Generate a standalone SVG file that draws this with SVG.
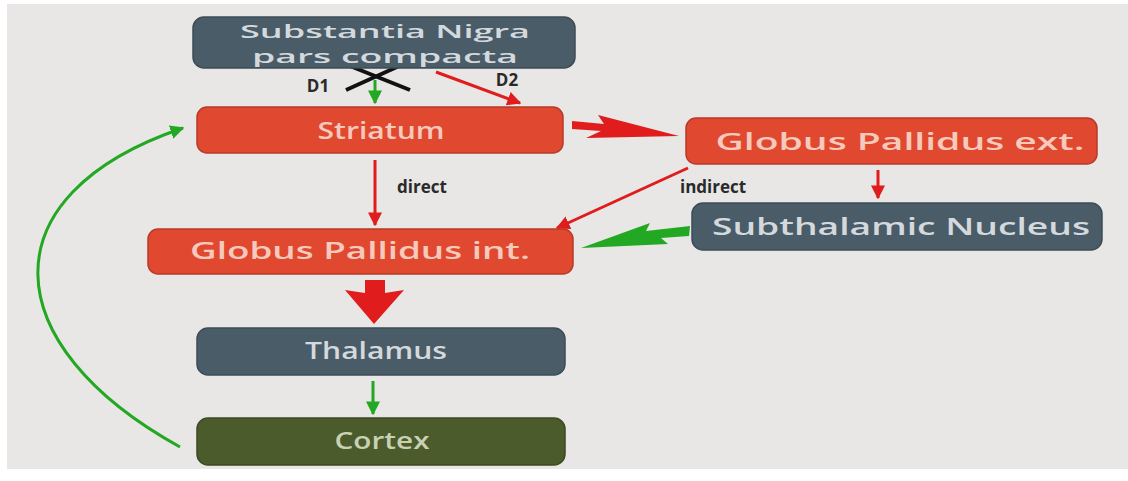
<svg xmlns="http://www.w3.org/2000/svg" width="1128" height="481" viewBox="0 0 1128 481">
<defs>
<style>
.slate{fill:#4a5c68;stroke:#3c4c57;stroke-width:1.5}
.red{fill:#e0492f;stroke:#b8392a;stroke-width:1.5}
.olive{fill:#4b5b2c;stroke:#3d4a22;stroke-width:1.5}
.t{font-family:"Open Sans","DejaVu Sans",sans-serif;font-weight:600;font-size:24px;text-anchor:middle}
.t2{font-size:18px}
.tl{fill:#d3d9dd}
.tr{fill:#f6c9bd}
.to{fill:#c9d1b3}
.lab{font-family:"Open Sans","DejaVu Sans",sans-serif;font-weight:700;font-size:17px;fill:#2a2a2a}
.rl{stroke:#e01c1c;stroke-width:3;fill:none}
.gl{stroke:#22a822;stroke-width:3;fill:none}
</style>
<marker id="ar" viewBox="0 0 10 10" refX="9" refY="5" markerWidth="14" markerHeight="14" markerUnits="userSpaceOnUse" orient="auto"><path d="M0,0 L10,5 L0,10 z" fill="#e01c1c"/></marker>
<marker id="ag" viewBox="0 0 10 10" refX="9" refY="5" markerWidth="14" markerHeight="14" markerUnits="userSpaceOnUse" orient="auto"><path d="M0,0 L10,5 L0,10 z" fill="#22a822"/></marker>
</defs>
<rect x="0" y="0" width="1128" height="481" fill="#ffffff"/>
<rect x="7" y="4" width="1121" height="465" fill="#e8e7e5"/>

<g id="connectors">
<!-- D1 -->
<line class="gl" x1="375" y1="80" x2="375" y2="103" marker-end="url(#ag)"/>
<line x1="345" y1="64" x2="410" y2="90" stroke="#111" stroke-width="4"/>
<line x1="408" y1="62" x2="346" y2="90" stroke="#111" stroke-width="4"/>
<!-- D2 -->
<line class="rl" x1="436" y1="72" x2="520" y2="103" marker-end="url(#ar)"/>
<!-- Striatum -> GPe -->
<polygon points="572,121 604,124 598,115 679,136 586,138 601,131 572,129" fill="#e01c1c"/>
<!-- direct -->
<line class="rl" x1="375" y1="160" x2="375" y2="225" marker-end="url(#ar)"/>
<!-- indirect -->
<line class="rl" x1="688" y1="168" x2="557" y2="228" marker-end="url(#ar)"/>
<!-- GPe -> STN -->
<line class="rl" x1="878" y1="170" x2="878" y2="198" marker-end="url(#ar)"/>
<!-- STN -> GPi -->
<polygon points="690,226 689,236 661,238 668,244 581,248 650,223 646,231" fill="#22a822"/>
<!-- GPi -> Thalamus -->
<polygon points="365,280 385,280 385,293 404,290 374,324 345,290 365,293" fill="#e01c1c"/>
<!-- Thalamus -> Cortex -->
<line class="gl" x1="373" y1="381" x2="373" y2="414" marker-end="url(#ag)"/>
<!-- Cortex -> Striatum -->
<path class="gl" d="M180,447 C-5,345 -15,195 183,128" marker-end="url(#ag)"/>
</g>

<g id="labels">
<text class="lab" x="318" y="92" text-anchor="middle">D1</text>
<text class="lab" x="507" y="86" text-anchor="middle">D2</text>
<text class="lab" x="397" y="193">direct</text>
<text class="lab" x="680" y="193">indirect</text>
</g>

<g id="snpc">
<rect class="slate" x="193" y="17" width="382" height="51" rx="11"/>
<text class="t t2 tl" x="385" y="38" textLength="290" lengthAdjust="spacingAndGlyphs">Substantia Nigra</text>
<text class="t t2 tl" x="385" y="63" textLength="266" lengthAdjust="spacingAndGlyphs">pars compacta</text>
</g>
<g id="striatum">
<rect class="red" x="197" y="107" width="366" height="46" rx="10"/>
<text class="t tr" x="381" y="139" textLength="127" lengthAdjust="spacingAndGlyphs">Striatum</text>
</g>
<g id="gpe">
<rect class="red" x="686" y="118" width="411" height="46" rx="10"/>
<text class="t tr" x="900" y="150" textLength="369" lengthAdjust="spacingAndGlyphs">Globus Pallidus ext.</text>
</g>
<g id="stn">
<rect class="slate" x="692" y="203" width="410" height="47" rx="11"/>
<text class="t tl" x="901" y="235" textLength="378" lengthAdjust="spacingAndGlyphs">Subthalamic Nucleus</text>
</g>
<g id="gpi">
<rect class="red" x="148" y="229" width="425" height="45" rx="10"/>
<text class="t tr" x="360" y="259" textLength="340" lengthAdjust="spacingAndGlyphs">Globus Pallidus int.</text>
</g>
<g id="thalamus">
<rect class="slate" x="197" y="328" width="368" height="47" rx="11"/>
<text class="t tl" x="376" y="359" textLength="142" lengthAdjust="spacingAndGlyphs">Thalamus</text>
</g>
<g id="cortex">
<rect class="olive" x="197" y="418" width="368" height="47" rx="11"/>
<text class="t to" x="382" y="449" textLength="95" lengthAdjust="spacingAndGlyphs">Cortex</text>
</g>
</svg>
